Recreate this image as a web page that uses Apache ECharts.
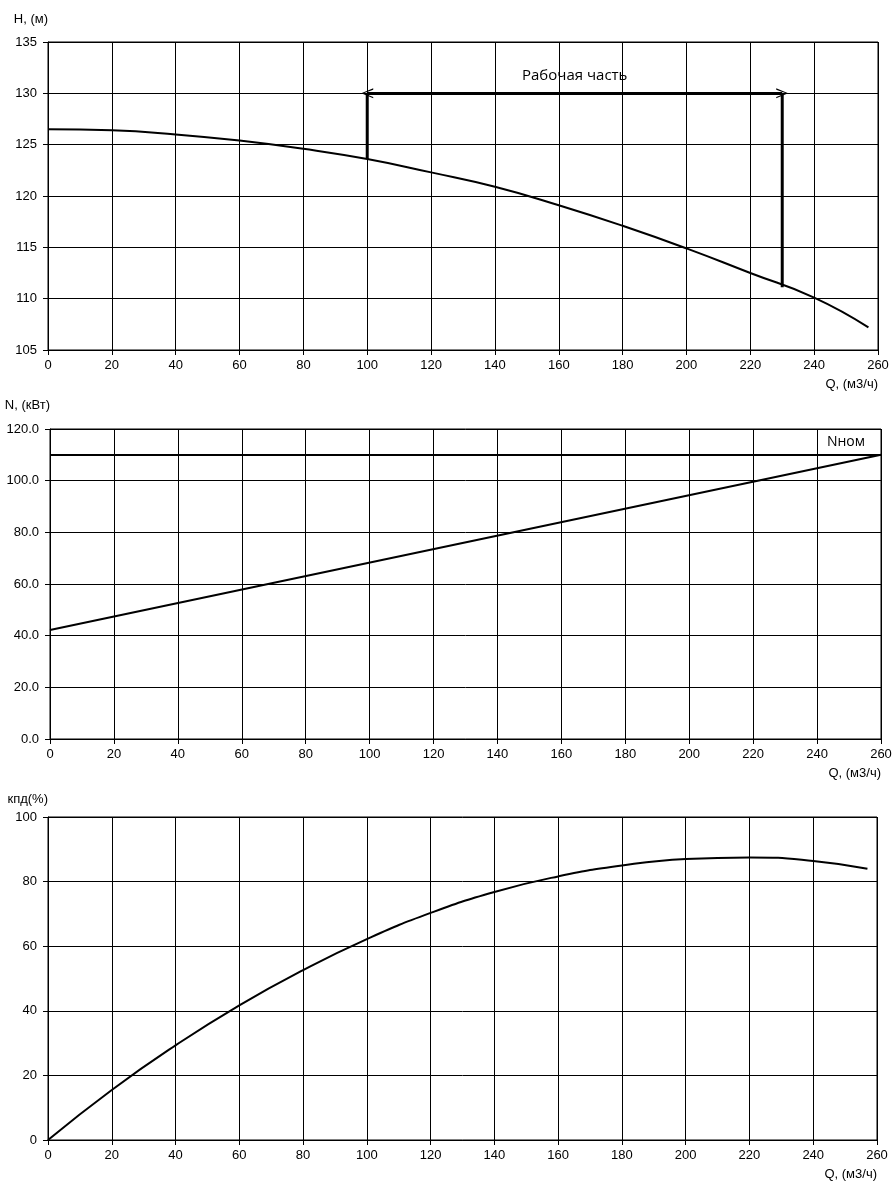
<!DOCTYPE html>
<html>
<head>
<meta charset="utf-8">
<script src="https://cdn.jsdelivr.net/npm/echarts@6/dist/echarts.min.js"></script>
<style>
  html, body { margin: 0; padding: 0; background: #fff; }
  #chart { width: 895px; height: 1189px; }
</style>
</head>
<body>
<div id="chart"></div>
<script>
// напор H(Q)
var headQ = [0, 20, 40, 60, 80, 100, 120, 140, 160, 180, 200, 220, 240, 257];
var headH = [126.5, 126.4, 126.0, 125.4, 124.6, 123.6, 122.3, 120.9, 119.1, 117.1, 114.9, 112.5, 110.1, 107.2];

// рабочая часть
var workQ = [100, 230];
var workH = [123.6, 111.1];
var workTop = 130;

// мощность N(Q)
var powerQ = [0, 260];
var powerN = [42.2, 110];
var powerNom = 110;

// кпд(Q)
var effQ = [0, 20, 40, 60, 80, 100, 120, 140, 160, 180, 200, 220, 240, 257];
var effK = [0, 15.5, 29.3, 41.7, 52.6, 62.2, 70.3, 76.8, 81.6, 85.0, 87.0, 87.5, 86.4, 84.0];

function pairs(xs, ys) {
  return xs.map(function (x, i) { return [x, ys[i]]; });
}

var chevron = 'path://M5,0 L10,12 L8.6,12 L5,2.4 L1.4,12 L0,12 Z';
var labelFont = {fontFamily: 'Liberation Sans, Arial', fontSize: 13, color: '#000'};
var noteFont = 'Open Sans';

function xAxisOf(idx) {
  return {
    type: 'value', gridIndex: idx, min: 0, max: 260, interval: 20,
    name: 'Q, (м3/ч)', nameLocation: 'end', nameGap: 0,
    nameTextStyle: {fontFamily: 'Liberation Sans, Arial', fontSize: 13, color: '#000',
      align: 'right', verticalAlign: 'top', padding: [28, 0, 0, 0]},
    axisLine: {onZero: false, lineStyle: {color: '#000', width: 1}},
    axisTick: {show: true, length: 5, lineStyle: {color: '#000'}},
    axisLabel: Object.assign({margin: 9}, labelFont),
    splitLine: {show: true, lineStyle: {color: '#000', width: 1}}
  };
}

function yAxisOf(idx, name, min, max, interval, gap, fmt) {
  return {
    type: 'value', gridIndex: idx, min: min, max: max, interval: interval,
    name: name, nameLocation: 'end', nameGap: gap,
    nameTextStyle: {fontFamily: 'Liberation Sans, Arial', fontSize: 13, color: '#000', align: 'right'},
    axisLine: {show: true, lineStyle: {color: '#000', width: 1}},
    axisTick: {show: true, length: 5, lineStyle: {color: '#000'}},
    axisLabel: Object.assign({margin: 11, formatter: fmt}, labelFont),
    splitLine: {show: true, lineStyle: {color: '#000', width: 1}}
  };
}

var myChart = echarts.init(document.getElementById('chart'));

var option = {
  animation: false,
  backgroundColor: '#fff',
  grid: [
    {left: 48, right: 17, top: 42, height: 308, show: true, borderColor: '#000', borderWidth: 1},
    {left: 50, right: 14, top: 429, height: 310, show: true, borderColor: '#000', borderWidth: 1},
    {left: 48, right: 18, top: 817, height: 323, show: true, borderColor: '#000', borderWidth: 1}
  ],
  xAxis: [xAxisOf(0), xAxisOf(1), xAxisOf(2)],
  yAxis: [
    yAxisOf(0, 'H, (м)', 105, 135, 5, 16),
    yAxisOf(1, 'N, (кВт)', 0, 120, 20, 17, function (v) { return v.toFixed(1); }),
    yAxisOf(2, 'кпд(%)', 0, 100, 20, 11)
  ],
  series: [
    {
      name: 'H', type: 'line', xAxisIndex: 0, yAxisIndex: 0,
      data: pairs(headQ, headH), smooth: true, showSymbol: false,
      lineStyle: {color: '#000', width: 2}
    },
    {
      name: 'work-left', type: 'line', xAxisIndex: 0, yAxisIndex: 0,
      data: [[workQ[0], workH[0]], [workQ[0], workTop]], showSymbol: false,
      lineStyle: {color: '#000', width: 3},
      markLine: {
        silent: true,
        symbol: [chevron, chevron], symbolSize: [10, 12],
        lineStyle: {color: '#000', width: 3, type: 'solid'},
        label: {show: true, position: 'middle', formatter: 'Рабочая часть', distance: 10,
          fontFamily: noteFont, fontSize: 15, color: '#000'},
        data: [[{coord: [workQ[0], workTop]}, {coord: [workQ[1], workTop]}]]
      }
    },
    {
      name: 'work-right', type: 'line', xAxisIndex: 0, yAxisIndex: 0,
      data: [[workQ[1], workH[1]], [workQ[1], workTop]], showSymbol: false,
      lineStyle: {color: '#000', width: 3}
    },
    {
      name: 'N', type: 'line', xAxisIndex: 1, yAxisIndex: 1,
      data: pairs(powerQ, powerN), showSymbol: false,
      lineStyle: {color: '#000', width: 2},
      markLine: {
        silent: true, symbol: ['none', 'none'],
        lineStyle: {color: '#000', width: 2, type: 'solid'},
        label: {show: true, position: 'insideEndTop', formatter: 'Nном', distance: [16, 6],
          fontFamily: noteFont, fontSize: 14, color: '#000'},
        data: [{yAxis: powerNom}]
      }
    },
    {
      name: 'кпд', type: 'line', xAxisIndex: 2, yAxisIndex: 2,
      data: pairs(effQ, effK), smooth: true, showSymbol: false,
      lineStyle: {color: '#000', width: 2}
    }
  ]
};

option && myChart.setOption(option);
</script>
</body>
</html>
